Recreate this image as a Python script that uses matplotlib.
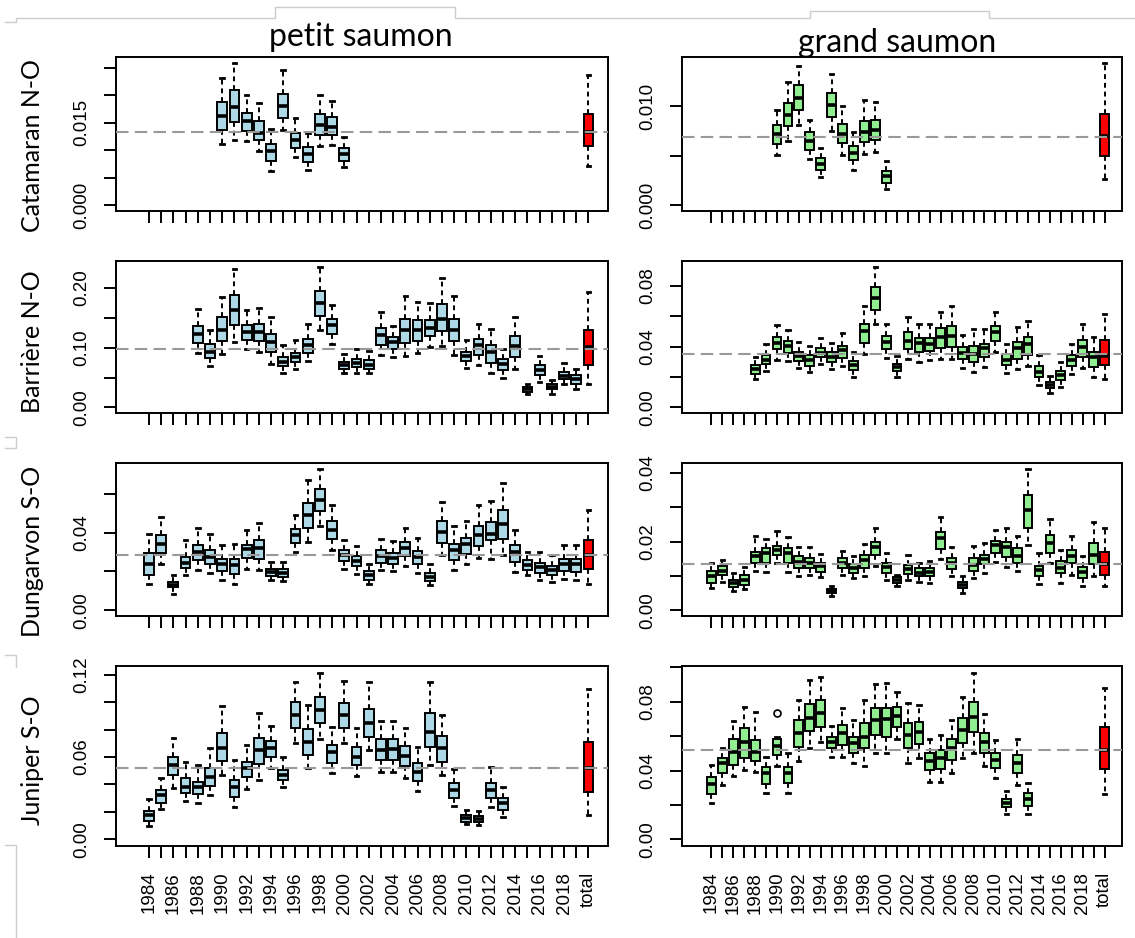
import numpy as np
import matplotlib.pyplot as plt
from matplotlib.lines import Line2D

W, H = 1135, 938

# x categories: 1984..2019 then "total"
years = list(range(1984, 2020))
xlabels = [str(y) if (y - 1984) % 2 == 0 else '' for y in years] + ['total']

row_names = ['Catamaran N-O', 'Barrière N-O', 'Dungarvon S-O', 'Juniper S-O']

# each tuple: (lower whisker, q1, median, q3, upper whisker)
cat_petit_start = 1990
cat_petit = [
    (0.0112, 0.0137, 0.0162, 0.0188, 0.0232), (0.0119, 0.0151, 0.0179, 0.0209, 0.0259),
    (0.0116, 0.0135, 0.0153, 0.0168, 0.0201), (0.0099, 0.0118, 0.0131, 0.0154, 0.0186),
    (0.0063, 0.0081, 0.0098, 0.0112, 0.0138), (0.0137, 0.0159, 0.0181, 0.0203, 0.0245),
    (0.0087, 0.0104, 0.0119, 0.0131, 0.0159), (0.0065, 0.0078, 0.0093, 0.0106, 0.0131),
    (0.0107, 0.0128, 0.0145, 0.0166, 0.0201), (0.0109, 0.0128, 0.0143, 0.0160, 0.0189),
    (0.0069, 0.0081, 0.0093, 0.0104, 0.0124)]
cat_petit_total = (0.0072, 0.0107, 0.0134, 0.0166, 0.0236)
cat_petit_ref = 0.0134

cat_grand_start = 1990
cat_grand = [
    (0.00503, 0.00617, 0.0072, 0.00805, 0.00959), (0.00651, 0.00795, 0.00908, 0.01028, 0.01243),
    (0.00805, 0.00959, 0.01086, 0.01216, 0.01404), (0.00469, 0.00555, 0.00651, 0.00736, 0.00856),
    (0.00281, 0.0036, 0.00421, 0.0048, 0.00582), (0.00753, 0.0089, 0.0101, 0.0113, 0.01326),
    (0.00503, 0.00627, 0.0072, 0.00822, 0.01004), (0.0036, 0.00452, 0.00531, 0.006, 0.00743),
    (0.00514, 0.00634, 0.00743, 0.00846, 0.01062), (0.00538, 0.00661, 0.00764, 0.00863, 0.01038),
    (0.00161, 0.00229, 0.00291, 0.00343, 0.00445)]
cat_grand_total = (0.00267, 0.00497, 0.00695, 0.00925, 0.01438)
cat_grand_ref = 0.00692

bar_petit_start = 1988
bar_petit = [
    (0.0911, 0.1078, 0.1233, 0.1356, 0.165), (0.0689, 0.0833, 0.0928, 0.1056, 0.1289),
    (0.0889, 0.1106, 0.13, 0.1511, 0.1844), (0.1094, 0.1383, 0.1633, 0.1883, 0.2317),
    (0.0983, 0.1133, 0.1261, 0.1383, 0.1622), (0.0928, 0.1106, 0.1261, 0.14, 0.1661),
    (0.0733, 0.0928, 0.1094, 0.1233, 0.1511), (0.0578, 0.0689, 0.0761, 0.0844, 0.1039),
    (0.065, 0.0761, 0.0844, 0.0911, 0.1133), (0.0778, 0.0911, 0.1039, 0.1139, 0.14),
    (0.13, 0.1522, 0.1744, 0.1956, 0.2356), (0.1067, 0.1233, 0.1372, 0.1483, 0.1706),
    (0.0567, 0.0639, 0.0706, 0.0761, 0.09), (0.0578, 0.0678, 0.075, 0.0817, 0.0983),
    (0.0567, 0.065, 0.0717, 0.08, 0.0939), (0.0872, 0.105, 0.1206, 0.1333, 0.1594),
    (0.0844, 0.0983, 0.1094, 0.1178, 0.1356), (0.0856, 0.1078, 0.1289, 0.1472, 0.1872),
    (0.0911, 0.1111, 0.1289, 0.1456, 0.1772), (0.1011, 0.1189, 0.1333, 0.1456, 0.175),
    (0.1022, 0.1278, 0.1483, 0.1733, 0.2167), (0.0872, 0.1106, 0.13, 0.1483, 0.1872),
    (0.0667, 0.0778, 0.0856, 0.0928, 0.1122), (0.0706, 0.0872, 0.1039, 0.115, 0.14),
    (0.0578, 0.0744, 0.0928, 0.105, 0.1317), (0.0494, 0.0622, 0.0722, 0.0817, 0.0983),
    (0.065, 0.0844, 0.1022, 0.1189, 0.1511), (0.0222, 0.0261, 0.0306, 0.0344, 0.0389),
    (0.0428, 0.0539, 0.0622, 0.0706, 0.0856), (0.0222, 0.03, 0.0344, 0.0389, 0.0456),
    (0.0389, 0.0467, 0.0522, 0.0594, 0.0744), (0.03, 0.0389, 0.0467, 0.0539, 0.065)]
bar_petit_total = (0.0389, 0.0706, 0.1011, 0.1289, 0.1928)
bar_petit_ref = 0.097

bar_grand_start = 1988
bar_grand = [
    (0.0184, 0.0218, 0.0249, 0.0277, 0.0331), (0.024, 0.0283, 0.0314, 0.0346, 0.0417),
    (0.0314, 0.0385, 0.0422, 0.0461, 0.0541), (0.0305, 0.0357, 0.0406, 0.0439, 0.0508),
    (0.0262, 0.0305, 0.0335, 0.0363, 0.0428), (0.0234, 0.027, 0.0314, 0.0342, 0.0406),
    (0.0283, 0.0331, 0.0357, 0.0391, 0.0456), (0.0255, 0.0298, 0.0331, 0.0363, 0.0422),
    (0.027, 0.0326, 0.0374, 0.0406, 0.0486), (0.0197, 0.0244, 0.0277, 0.0305, 0.0363),
    (0.0352, 0.0422, 0.0499, 0.0551, 0.0666), (0.0547, 0.0638, 0.0716, 0.0789, 0.0925),
    (0.0326, 0.0385, 0.0428, 0.0471, 0.0547), (0.0201, 0.0238, 0.0266, 0.0288, 0.0335),
    (0.032, 0.0385, 0.0439, 0.0493, 0.0595), (0.0298, 0.0363, 0.0422, 0.0456, 0.0547),
    (0.0309, 0.037, 0.0417, 0.0456, 0.0547), (0.032, 0.0391, 0.0461, 0.0519, 0.0629),
    (0.032, 0.04, 0.0471, 0.0536, 0.0666), (0.0262, 0.0316, 0.0357, 0.0396, 0.0476),
    (0.0234, 0.0298, 0.0352, 0.0406, 0.0515), (0.0266, 0.0331, 0.0389, 0.0417, 0.0515),
    (0.0363, 0.0435, 0.0493, 0.0536, 0.0627), (0.0223, 0.0277, 0.0314, 0.0352, 0.0417),
    (0.0249, 0.032, 0.0391, 0.0428, 0.053), (0.027, 0.0346, 0.0417, 0.0461, 0.0569),
    (0.0147, 0.0197, 0.0234, 0.027, 0.0342), (0.0093, 0.0125, 0.0147, 0.0169, 0.0205),
    (0.0132, 0.0179, 0.0212, 0.024, 0.0298), (0.0218, 0.027, 0.0309, 0.0342, 0.0417),
    (0.0262, 0.0331, 0.04, 0.0443, 0.0551), (0.0197, 0.0266, 0.0331, 0.0363, 0.0461)]
bar_grand_total = (0.0184, 0.0277, 0.0335, 0.0443, 0.0616)
bar_grand_ref = 0.0352

dun_petit_start = 1984
dun_petit = [
    (0.0137, 0.018, 0.024, 0.0295, 0.0394), (0.024, 0.0295, 0.0343, 0.0386, 0.048),
    (0.0086, 0.012, 0.0129, 0.0146, 0.018), (0.018, 0.0219, 0.0243, 0.0274, 0.036),
    (0.0206, 0.0257, 0.03, 0.0334, 0.0425), (0.0192, 0.0237, 0.0274, 0.0312, 0.0394),
    (0.0154, 0.0201, 0.024, 0.0266, 0.0334), (0.0137, 0.0185, 0.0231, 0.0266, 0.0339),
    (0.0214, 0.0271, 0.0317, 0.0334, 0.0411), (0.0206, 0.0266, 0.0322, 0.036, 0.0449),
    (0.0154, 0.0175, 0.0197, 0.0214, 0.0249), (0.0151, 0.0171, 0.0192, 0.0214, 0.0249),
    (0.03, 0.0346, 0.0386, 0.042, 0.0489), (0.0351, 0.0425, 0.0489, 0.0552, 0.0672),
    (0.0432, 0.0511, 0.0569, 0.0626, 0.0729), (0.0312, 0.0369, 0.0415, 0.0459, 0.054),
    (0.0214, 0.0254, 0.0283, 0.0309, 0.0363), (0.0185, 0.0226, 0.0254, 0.0278, 0.0329),
    (0.0134, 0.0158, 0.018, 0.0201, 0.024), (0.0206, 0.0243, 0.0278, 0.0309, 0.0369),
    (0.0201, 0.0237, 0.0271, 0.0295, 0.0357), (0.0226, 0.0278, 0.0322, 0.0351, 0.0425),
    (0.0192, 0.0237, 0.0274, 0.0305, 0.0372), (0.0129, 0.0151, 0.0171, 0.0192, 0.024),
    (0.0283, 0.0346, 0.0403, 0.0459, 0.0557), (0.0206, 0.0257, 0.0309, 0.0343, 0.0432),
    (0.024, 0.0291, 0.0343, 0.0374, 0.0459), (0.0271, 0.0329, 0.0386, 0.0432, 0.054),
    (0.0266, 0.036, 0.0394, 0.0454, 0.0561), (0.0283, 0.0369, 0.0446, 0.0518, 0.0655),
    (0.0197, 0.0249, 0.03, 0.0334, 0.0415), (0.018, 0.0206, 0.0235, 0.0257, 0.03),
    (0.0154, 0.0192, 0.0223, 0.0243, 0.03), (0.0146, 0.018, 0.0206, 0.0226, 0.0283),
    (0.0163, 0.0202, 0.024, 0.0266, 0.0334), (0.0154, 0.0197, 0.024, 0.0266, 0.0334)]
dun_petit_total = (0.0137, 0.0214, 0.0283, 0.0363, 0.0514)
dun_petit_ref = 0.0283

dun_grand_start = 1984
dun_grand = [
    (0.0065, 0.0081, 0.01, 0.0115, 0.0139), (0.0084, 0.0103, 0.0116, 0.0128, 0.0147),
    (0.0055, 0.0067, 0.0079, 0.0089, 0.0108), (0.0063, 0.0074, 0.0089, 0.0103, 0.0126),
    (0.0116, 0.0137, 0.0157, 0.0171, 0.0217), (0.0113, 0.0139, 0.0166, 0.0181, 0.0207),
    (0.0139, 0.0161, 0.0176, 0.0187, 0.0232), (0.0113, 0.0137, 0.0166, 0.0181, 0.0214),
    (0.01, 0.0123, 0.0142, 0.0157, 0.0186), (0.0103, 0.0123, 0.0139, 0.0152, 0.0184),
    (0.0097, 0.0113, 0.0128, 0.0139, 0.0164), (0.0043, 0.005, 0.0055, 0.0062, 0.007),
    (0.0103, 0.0123, 0.0139, 0.0152, 0.0174), (0.0094, 0.011, 0.0123, 0.0135, 0.0157),
    (0.0099, 0.0123, 0.0147, 0.0161, 0.0192), (0.0129, 0.0161, 0.0186, 0.02, 0.0239),
    (0.0089, 0.0108, 0.0126, 0.0139, 0.0166), (0.007, 0.0081, 0.0089, 0.0097, 0.0103),
    (0.0087, 0.0106, 0.012, 0.0132, 0.0161), (0.0084, 0.0099, 0.011, 0.0123, 0.0139),
    (0.0081, 0.0099, 0.0113, 0.0123, 0.0145), (0.0149, 0.0178, 0.021, 0.0229, 0.0271),
    (0.01, 0.012, 0.0137, 0.0152, 0.0184), (0.005, 0.0065, 0.0074, 0.0084, 0.01),
    (0.0094, 0.0116, 0.0132, 0.0152, 0.0187), (0.011, 0.0135, 0.0149, 0.0161, 0.0195),
    (0.0142, 0.0166, 0.019, 0.0202, 0.0234), (0.0126, 0.0155, 0.0186, 0.02, 0.0239),
    (0.0116, 0.0139, 0.0158, 0.0181, 0.0216), (0.019, 0.0239, 0.0292, 0.0335, 0.0413),
    (0.0077, 0.01, 0.0118, 0.0129, 0.0166), (0.0137, 0.0166, 0.0195, 0.0219, 0.0265),
    (0.0081, 0.0108, 0.0123, 0.0145, 0.0176), (0.0103, 0.0137, 0.0157, 0.0176, 0.0216),
    (0.0071, 0.0094, 0.0113, 0.0126, 0.0157), (0.0099, 0.0135, 0.0161, 0.0197, 0.0258)]
dun_grand_total = (0.007, 0.0103, 0.0135, 0.0171, 0.0239)
dun_grand_ref = 0.0134

jun_petit_start = 1984
jun_petit = [
    (0.01, 0.0134, 0.0177, 0.0206, 0.0291), (0.0219, 0.0267, 0.0323, 0.0359, 0.0444),
    (0.0372, 0.0469, 0.0542, 0.0602, 0.0736), (0.0282, 0.034, 0.0384, 0.0449, 0.0566),
    (0.0262, 0.033, 0.0384, 0.042, 0.0542), (0.0323, 0.0389, 0.0457, 0.0517, 0.0663),
    (0.0469, 0.0573, 0.0663, 0.0772, 0.0972), (0.0233, 0.0311, 0.0379, 0.0432, 0.0578),
    (0.0364, 0.0452, 0.0517, 0.0566, 0.0687), (0.0432, 0.0549, 0.0651, 0.0736, 0.0918),
    (0.0517, 0.0602, 0.0663, 0.0719, 0.0826), (0.0384, 0.0432, 0.0469, 0.0505, 0.0598),
    (0.07, 0.0809, 0.0906, 0.1003, 0.1149), (0.0517, 0.0615, 0.0712, 0.0802, 0.0979),
    (0.0729, 0.085, 0.0942, 0.104, 0.1214), (0.0481, 0.0559, 0.0639, 0.0687, 0.0816),
    (0.0704, 0.0809, 0.0906, 0.0996, 0.1154), (0.0462, 0.0542, 0.0602, 0.0675, 0.0809),
    (0.0651, 0.0748, 0.0845, 0.0947, 0.1149), (0.0493, 0.0578, 0.0651, 0.0729, 0.0865),
    (0.0493, 0.0578, 0.0656, 0.0729, 0.0865), (0.0444, 0.0534, 0.0607, 0.068, 0.0809),
    (0.0355, 0.0427, 0.0493, 0.0554, 0.067), (0.0542, 0.067, 0.0785, 0.0923, 0.1149),
    (0.0469, 0.0566, 0.0663, 0.0753, 0.0906), (0.0243, 0.0299, 0.0359, 0.0408, 0.051),
    (0.0109, 0.0129, 0.0153, 0.0177, 0.0214), (0.0102, 0.0129, 0.0148, 0.017, 0.0209),
    (0.0238, 0.0299, 0.0359, 0.0413, 0.0525), (0.0165, 0.0214, 0.0262, 0.0299, 0.0384)]
jun_petit_total = (0.0177, 0.0347, 0.0517, 0.0712, 0.1093)
jun_petit_ref = 0.0517

jun_grand_start = 1984
jun_grand = [
    (0.0209, 0.0264, 0.0322, 0.0364, 0.0432), (0.0316, 0.0388, 0.0446, 0.0471, 0.0529),
    (0.0368, 0.0432, 0.051, 0.0581, 0.0688), (0.0403, 0.0471, 0.0568, 0.0645, 0.0771),
    (0.0393, 0.0457, 0.051, 0.0578, 0.0742), (0.0267, 0.0322, 0.0384, 0.0419, 0.0481),
    (0.0426, 0.049, 0.0543, 0.0581, 0.0597), (0.0267, 0.0329, 0.0384, 0.0422, 0.05),
    (0.0457, 0.0539, 0.062, 0.0694, 0.081), (0.0529, 0.0632, 0.0703, 0.0787, 0.0926),
    (0.0568, 0.0655, 0.0736, 0.081, 0.0946), (0.0477, 0.0529, 0.0568, 0.0597, 0.0659),
    (0.0477, 0.0548, 0.0616, 0.0665, 0.0762), (0.0442, 0.0504, 0.0562, 0.0597, 0.0694),
    (0.0426, 0.0529, 0.0597, 0.0674, 0.081), (0.0504, 0.0607, 0.0694, 0.0762, 0.0903),
    (0.05, 0.0597, 0.0698, 0.0762, 0.0911), (0.0581, 0.0655, 0.0717, 0.0771, 0.0859),
    (0.0446, 0.0529, 0.0607, 0.0674, 0.0795), (0.0471, 0.0554, 0.0626, 0.0684, 0.0781),
    (0.0335, 0.0403, 0.0457, 0.05, 0.0581), (0.0335, 0.0407, 0.0471, 0.0519, 0.0607),
    (0.0388, 0.0461, 0.0529, 0.0581, 0.0694), (0.0471, 0.0562, 0.0636, 0.0703, 0.0829),
    (0.05, 0.0626, 0.0713, 0.08, 0.0969), (0.0426, 0.0504, 0.0568, 0.062, 0.0729),
    (0.0355, 0.0413, 0.0461, 0.05, 0.0578), (0.0147, 0.0186, 0.0213, 0.0233, 0.0283),
    (0.0316, 0.0384, 0.0442, 0.049, 0.0581), (0.0147, 0.0194, 0.0233, 0.0267, 0.0326)]
jun_grand_fliers = {1990: [0.0736]}
jun_grand_total = (0.0264, 0.0407, 0.0519, 0.0651, 0.0878)
jun_grand_ref = 0.0519

# panel layout in pixels (left, right) / (top, bottom)
col_x = [(116, 608), (682, 1122)]
row_y = [(57, 211), (261, 413), (463, 616), (666, 846)]

panels = [
    # row, col, start, stats, total, ref, fliers, tick step, labelled ticks, fmt
    (0, 0, cat_petit_start, cat_petit, cat_petit_total, cat_petit_ref, {}, 0.005, [0, 0.015], '{:.3f}'),
    (0, 1, cat_grand_start, cat_grand, cat_grand_total, cat_grand_ref, {}, 0.005, [0, 0.010], '{:.3f}'),
    (1, 0, bar_petit_start, bar_petit, bar_petit_total, bar_petit_ref, {}, 0.05, [0, 0.10, 0.20], '{:.2f}'),
    (1, 1, bar_grand_start, bar_grand, bar_grand_total, bar_grand_ref, {}, 0.02, [0, 0.04, 0.08], '{:.2f}'),
    (2, 0, dun_petit_start, dun_petit, dun_petit_total, dun_petit_ref, {}, 0.02, [0, 0.04], '{:.2f}'),
    (2, 1, dun_grand_start, dun_grand, dun_grand_total, dun_grand_ref, {}, 0.01, [0, 0.02, 0.04], '{:.2f}'),
    (3, 0, jun_petit_start, jun_petit, jun_petit_total, jun_petit_ref, {}, 0.02, [0, 0.06, 0.12], '{:.2f}'),
    (3, 1, jun_grand_start, jun_grand, jun_grand_total, jun_grand_ref, jun_grand_fliers, 0.02, [0, 0.04, 0.08], '{:.2f}'),
]

colors = ['#ADD8E6', '#90EE90']
LW = 1.4

fig = plt.figure(figsize=(W / 100, H / 100), dpi=100)


def to_bxp(s, fl=()):
    return dict(whislo=s[0], q1=s[1], med=s[2], q3=s[3], whishi=s[4], fliers=list(fl))


def draw(ax, start, stats, total, ref, fliers, color):
    pos = [start - 1984 + 1 + i for i in range(len(stats))]
    bstats = [to_bxp(s, fliers.get(start + i, [])) for i, s in enumerate(stats)]
    common = dict(widths=0.8, patch_artist=True, capwidths=0.3,
                  medianprops=dict(color='black', linewidth=2.6, solid_capstyle='butt'),
                  whiskerprops=dict(color='black', linewidth=LW, linestyle=(0, (2.5, 2))),
                  capprops=dict(color='black', linewidth=2.0),
                  flierprops=dict(marker='o', markerfacecolor='none', markeredgecolor='black',
                                  markersize=5, markeredgewidth=1.2))
    ax.bxp(bstats, positions=pos,
           boxprops=dict(facecolor=color, edgecolor='black', linewidth=LW), **common)
    ax.bxp([to_bxp(total)], positions=[len(years) + 1],
           boxprops=dict(facecolor='red', edgecolor='black', linewidth=LW), **common)
    ax.axhline(ref, color='#999999', linewidth=1.5, linestyle=(0, (6, 3)), zorder=6)


for row, col, start, stats, total, ref, fliers, step, labelled, fmt in panels:
    x0, x1 = col_x[col]
    y0, y1 = row_y[row]
    ax = fig.add_axes([x0 / W, 1 - y1 / H, (x1 - x0) / W, (y1 - y0) / H])
    draw(ax, start, stats, total, ref, fliers, colors[col])

    hi = max([s[4] for s in stats] + [total[4]] + [v for f in fliers.values() for v in f])
    pad = 0.04 * hi
    ax.set_ylim(-pad, hi + pad)
    ax.set_xlim(-1.7, len(years) + 1 + 1.6)

    yt = np.arange(0, hi + pad + 1e-12, step)
    ax.set_yticks(yt)
    ax.set_yticklabels([fmt.format(t) if any(abs(t - l) < 1e-9 for l in labelled) else '' for t in yt],
                       rotation=90, va='center', fontsize=13.5, family='Liberation Sans')

    ax.set_xticks(range(1, len(years) + 2))
    if row == 3:
        ax.set_xticklabels(xlabels, rotation=90, fontsize=13.5, family='Liberation Sans')
    else:
        ax.set_xticklabels([''] * len(xlabels))

    ax.tick_params(direction='out', length=8.6, width=LW, color='black', pad=10)
    for sp in ax.spines.values():
        sp.set_linewidth(LW)
        sp.set_color('black')

# row names and column titles
label_y = [146, 342, 551, 760]
for name, yy in zip(row_names, label_y):
    fig.text(33 / W, 1 - yy / H, name, rotation=90, ha='center', va='center',
             fontsize=18, family='Lato')

fig.text(361 / W, 1 - 46 / H, 'petit saumon', ha='center', va='baseline', fontsize=23, family='Lato')
fig.text(897 / W, 1 - 52 / H, 'grand saumon', ha='center', va='baseline', fontsize=23, family='Lato')

# page edge marks from the document screenshot
gray = '#cccccc'
marks = [
    [(5, 22), (16, 22), (16, 18), (275, 18), (275, 7), (455, 7), (455, 18), (810, 18),
     (810, 11), (989, 11), (989, 18), (1135, 18)],
    [(5, 437), (16, 437), (16, 448), (5, 448)],
    [(5, 655), (16, 655), (16, 667)],
    [(5, 845), (16, 845), (16, 938)],
]
for m in marks:
    xs = [p[0] / W for p in m]
    ys = [1 - p[1] / H for p in m]
    fig.add_artist(Line2D(xs, ys, color=gray, linewidth=1.0, transform=fig.transFigure))

fig.savefig('out.png', dpi=100)
